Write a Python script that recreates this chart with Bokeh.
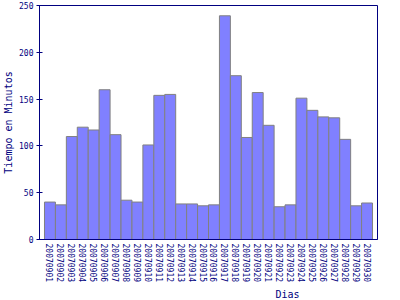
from bokeh.plotting import figure
from bokeh.models import FixedTicker, Range1d, Title
from bokeh.embed import file_html
from bokeh.resources import INLINE

days = ["200709%02d" % d for d in range(1, 31)]
minutes = [40, 37, 110, 120, 117, 160, 112, 42, 40, 101,
           154, 155, 38, 38, 36, 37, 239, 175, 109, 157,
           122, 35, 37, 151, 138, 131, 130, 107, 36, 39]
yticks = [0, 50, 100, 150, 200, 250]

NAVY = "#000080"
FONT = "DejaVu Sans Mono"

x = list(range(1, len(days) + 1))

p = figure(width=400, height=300, output_backend="svg", toolbar_location=None,
           x_range=Range1d(0.045, 30.955), y_range=Range1d(0, 250),
           min_border_left=37, min_border_right=23, min_border_top=5,
           min_border_bottom=10)

p.vbar(x=x, top=minutes, width=1.0, bottom=0,
       fill_color="#8080ff", line_color="#808080", line_width=1)

p.grid.visible = False
p.outline_line_color = NAVY
p.outline_line_width = 1
p.background_fill_color = "white"
p.border_fill_color = "white"

# x axis
p.xaxis.ticker = FixedTicker(ticks=x)
p.xaxis.major_label_overrides = {i: d for i, d in zip(x, days)}
p.xaxis.major_label_orientation = "vertical"
p.xaxis.major_tick_line_color = None
p.xaxis.minor_tick_line_color = None
p.xaxis.major_tick_out = 0
p.xaxis.major_tick_in = 0
p.xaxis.major_label_standoff = 4
p.xaxis.axis_line_color = NAVY
p.xaxis.major_label_text_font = FONT
p.xaxis.major_label_text_font_size = "8px"
p.xaxis.major_label_text_color = NAVY

# y axis
p.yaxis.ticker = FixedTicker(ticks=yticks)
p.yaxis.minor_tick_line_color = None
p.yaxis.major_tick_in = 3
p.yaxis.major_tick_out = 3
p.yaxis.major_tick_line_color = NAVY
p.yaxis.axis_line_color = NAVY
p.yaxis.major_label_standoff = 3
p.yaxis.major_label_text_font = FONT
p.yaxis.major_label_text_font_size = "8px"
p.yaxis.major_label_text_color = NAVY
p.yaxis.axis_label = "Tiempo en Minutos"
p.yaxis.axis_label_text_font = FONT
p.yaxis.axis_label_text_font_size = "10px"
p.yaxis.axis_label_text_font_style = "normal"
p.yaxis.axis_label_text_color = NAVY
p.yaxis.axis_label_standoff = 2

xt = Title(text="Dias", align="left", offset=236, text_font=FONT,
           text_font_size="10px", text_font_style="normal", text_color=NAVY,
           standoff=2)
p.add_layout(xt, "below")

open("out.html", "w").write(file_html(p, INLINE))
